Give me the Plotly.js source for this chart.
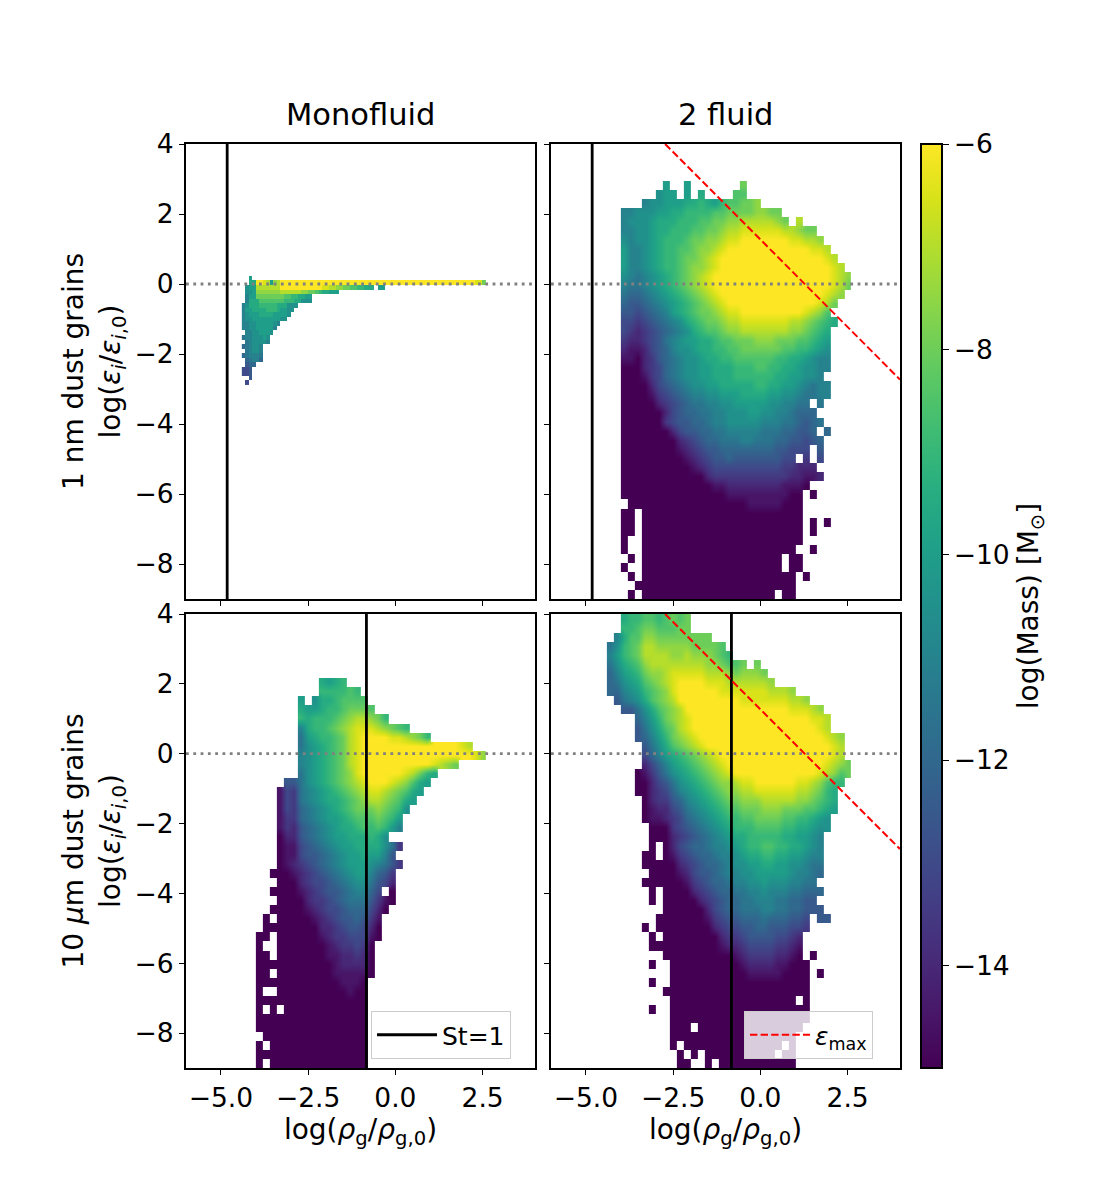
<!DOCTYPE html>
<html>
<head>
<meta charset="utf-8">
<script src="https://cdn.plot.ly/plotly-3.0.1.min.js"></script>
<style>html,body{margin:0;padding:0;background:#fff}</style>
</head>
<body>
<div id="chart" style="width:1100px;height:1200px"></div>
<script>
// One letter per histogram cell: a = log(Mass) -15 ... s = -6 in 0.5 steps, "." = empty bin.
const massLetters = "abcdefghijklmnopqrs";
const massFloor = -15, massStep = 0.5;

// 1 nm monofluid: fine bins, first column x = -4.4, first row y = 0.23 to 0.10 going down
const monoNmRows = [
"..k",
"..llssrqkpqssssssssssssssssssssssssssssssssssssssssssssssssssssssssrro",
".jkkqqqqqqqssssssssssssrrqqppoonnmmlll.kk",
".jjkpppppppqqqqqqppoonmllkkk",
".ikkoooooooonnmmllkk",
".illlnnnnnnnmmmlljjj",
"ijlllmmmmmllljjj",
"ikkllllmmmlkkjj",
"ijkkkllllkkkkj",
"ijjkkkkkkkkjj",
"iijjkkkkkji",
"iijjkkkkki",
".iijjkkkj",
"hiijjjkj",
".hijjjji",
"ghijji",
".hijji",
"ghiiih",
".ghiig",
".fgg",
"eef",
"eef",
"..f",
".e"
];

// Coarse bins below: first column x = -4.6, each 0.2 wide; first row y = 4 to 3.74, each 0.26 tall
const twoNmRows = [
"","","","",
".........k..k.......o",
"........jkk.k.l....nn",
"......ijjkkkllmlkmnnoop",
"...iijjjkkllmmmmnnooooppoo",
"...ijjjklllmmmnnooppqqqqqpo.q",
"...iijjkllmmmnnoopqqrrrrrrqqpoo",
"...jijjklmmmnooppqrrsssssssrrqqp",
"...kiijklmmnnoppqrssssssssssssrrq",
"...kiijklmmnoopqrsssssssssssssssrq",
"...kiijklmmnoppqrssssssssssssssssrq",
"...jihijklmnopqrsssssssssssssssssrqp",
"...ihhijklmnopqrsssssssssssssssssrqo",
"...hgghijklmnopqrsssssssssssssssrqp",
"...gffghijklmnopqrsssssssssssssrqo",
"...ffefghiklmnoopqrrsssssssssrqpn",
"...eedefghijlmnoopqqrrrrrrrqqponml",
"...edcdefghijlmnnoppqqqqqqqpponml",
"...dccdefhijkkllmnnoooppp"+"ooonnmlk",
"...cbbcefgijjkllmmnnoooooo"+"nnmmlkj",
"...bbacdfghijjkllmmnnnnnn"+"mmllkjii",
"...aaacdeghijjkklllmmmnnmmllkjjii",
"...aaabdeghijjkklllmmmmmmllkkjji",
"...aaaacefghijjkklllllmmllkkjihii",
"...aaaabdefghiijjkkkllllkkjjihhii",
"...aaaaacdefghhiijjkkkkkjjiihh.h",
"...aaaaaacefgghhiijjjkkjjiihggg",
"...aaaaaadeffgghiijjjjjiiihhgfgh",
"...aaaaaaaceffgghhiiiiihhhggffg.g",
"...aaaaaaaacdefgghhhiihhhggffefg",
"...aaaaaaaabcdeffggggggggffeee.f",
"...aaaaaaaaabcdeffgfffffffee.d.e",
"...aaaaaaaaaabcdeeeeeeeeeeddccc",
"...aaaaaaaaaaaacdddddddddddccbbc",
"...aaaaaaaaaaaaabbccccccccbbba",
"...aaaaaaaaaaaaaaabbbbbbbbbaa.a",
"....aaaaaaaaaaaaaaaaabbbbbaaa",
"...aa.aaaaaaaaaaaaaaaaaaaaaaa",
"...aa.aaaaaaaaaaaaaaaaaaaaaaa.a.a",
"...aa.aaaaaaaaaaaaaaaaaaaaaaa.a",
"...a..aaaaaaaaaaaaaaaaaaaaaaa",
"...a..aaaaaaaaaaaaaaaaaaaaaa..a",
"....a.aaaaaaaaaaaaaaaaaaaa.aa",
"...a..aaaaaaaaaaaaaaaaaaaa.aa",
"....a.aaaaaaaaaaaaaaaaaaaaaa.a",
".....aaaaaaaaaaaaaaaaaaaaaaa",
"....a.aaaaaaaaaaaaaaaaaaa.aa"
];

const monoUmRows = [
"","","","","","","",
"............lklm",
"............mmmmnm",
".........k.jllmnnnn",
".........lkklmmnooon",
".........mlmmmnopqqpom",
".........ilmmnopqrrrqponm",
".........hklmmnoqrssssrrqpom",
".........hjklmnoqrssssssssssssssrq",
".........ijklmnoqrssssssssssssssssrp",
".........ijklmnoqrssssssssssrqpo",
".........hjklmnoprssssssrqoml",
".......ffhjklmnopqrsssrqpnlk",
"......bedhijklmnopqrrqponlk",
"......bedhijkllmnopqqponlk",
"......bedghijklmnooopon"+"mj",
"......bddghijkklmnnnonmk",
"......bdcfghijkllmnmnmki",
"......accfghijkklllmlj",
"......abbefghijkklllljhd",
"......abbeffghijkklkkif",
"......abcdefghijkkkjihfd",
".....aaabcdefghijkkigfd",
"......aaacdeefghijjhfec",
".....aaaabcdeffghiige.a",
"......aaaacddefghhhfdba",
".....aaaaabcdeefgggeca",
"....a.aaaaabcdeffgfdb",
"....aaaaaaaaccdeffeca",
"...aa.aaaaaabcddeeeba",
"...a..aaaaaaabcddeda",
"...aa.aaaaaaabbccdca",
"...aaaaaaaaaaabcccca",
"...aa.aaaaaaaabbbbba",
"...aaaaaaaaaaaabbba",
"...a..aaaaaaaaaabaa",
"...aaaaaaaaaaaaaaaa",
"...a.a.aaaaaaaaaaaa",
"...aaaaaaaaaaaaaaaa",
"...aaaaaaaaaaaaaaaa",
"....aaaaaaaaaaaaaaa",
"...a.aaaaaaaaaaaaaa",
"...aaaaaaaaaaaaaaaa",
"...a.aaaaaaaaaaaaaa"
];

const twoUmRows = [
"...lmmnnmnono",
"...mmnoonnnoo",
"..ilnnppoooooooo",
".hjmnoqqpppppoooon",
".ikmnoqqqqppqppponm",
".hjlmnpqqqqqqqqpponno.o",
".giklmoppqrrrrrqqqpopppo",
".ghjklnopqrssssrrrqqqqqqp",
".ggijkmnoprssssssrrrrrrrqqqp",
"..fhijlnopqsssssssssrrrrrrrqqp",
"...ffhjlnopqsssssssssssssssrrrqp",
".....gikmopqrsssssssssssssssssrrq",
".....fhjlnoqrssssssssssssssssssrq",
".....fgikmopqrssssssssssssssssssrqp",
"......fhjlnopqrssssssssssssssssssrq",
"......egiklmnopqrssssssssssssssssrq",
"......cegiklmnopqrssssssssssssssrqpo",
".....abdfhjklmnopqrssssssssssssrqpno",
".....aacefhjklmnoppqrrssssssrrqpnmm",
".....aacdegijklmnoppqqrrrrrrqqpoml",
"......acddfgijklmnooppp"+"qqqqqpponml",
"......abccefhijklmnnooo"+"pppooonnmlk",
"......abbcdeghijklmmnn"+"oooonnmmlkj",
".......aaadefghijklmmm"+"nnnnmmllkjj",
".......aaacdefghijkll"+"mmmmmllkkji",
".......a.acefgghiijklmmnnmmllkji",
"......aa.abdefgghiijkllmmllkkjii",
"......aaaaacdefgghijjkkllkkjjihh",
".......aaaabceffghiijjkkkkkjiihg",
"......aaaaaabdefgghiijjkjjjiihh",
".......a.aaaacdefgghhiijiiihhggg",
".......a.aaaaacdefgghhiiihhggff",
".........aaaaaacefgghhhiihhggfff",
"........aaaaaaabdeffggghgggffe.ff",
"......a.aaaaaaaacdeeffggfffeed",
".......a.aaaaaaaacddeffffeedc",
".......aaaaaaaaaabccdeeeeddcb",
".........aaaaaaaaaabcddddccba.a",
".......a..aaaaaaaaaabccccbbaaa",
"..........aaaaaaaaaaabbbbbaaaa.a",
".......a..aaaaaaaaaaaaaaaaaaaa",
".........aaaaaaaaaaaaaaaaaaaaa",
"..........aaaaaaaaaaaaaaaaaa.a",
".......a..aaaaaaaaaaaaaaaaaaaa",
"..........aaaaaaaaaaaaaaaaaaaa",
"..........aaa.aaaaaaaaaaaaaaa",
"..........aaaaaaaaaaaaaaaaaa",
"..........a.aaaaaaaaaaaaaa.a",
"...........a.a.aaaaaaaaaa.aa",
"...........aa..a.aaaaaaaaaaa"
];

const stokesX = {nm: -4.82, um: -0.83};
const epsMaxX = [-2.73, 4];
const epsMaxY = [4, -2.73];
const refLineX = [-6, 4];
const refLineY = [0, 0];
const xTicks = [-5, -2.5, 0, 2.5];
const yTicks = [-8, -6, -4, -2, 0, 2, 4];
const cbTicks = [-14, -12, -10, -8, -6];
const panelTitles = ["Monofluid", "2 fluid"];

const xLabel = "log(<i>ρ</i><sub>g</sub>/<i>ρ</i><sub>g,0</sub>)";
const yLabelMath = "log(<i>ε</i><sub><i>i</i></sub>/<i>ε</i><sub><i>i</i>,0</sub>)";
const yLabels = ["1 nm dust grains<br>" + yLabelMath, "10 <i>μ</i>m dust grains<br>" + yLabelMath];

function cellGrid(rows, x0, dx, yTop, dy) {
  const nCols = Math.max(...rows.map(r => r.length));
  const x = Array.from({length: nCols}, (_, i) => x0 + dx * (i + 0.5));
  const y = [], z = [];
  rows.forEach((row, j) => {
    y.unshift(yTop - dy * (j + 0.5));
    const line = [];
    for (let i = 0; i < nCols; i++) {
      const k = i < row.length ? massLetters.indexOf(row[i]) : -1;
      line.push(k < 0 ? null : massFloor + massStep * k);
    }
    z.unshift(line);
  });
  return {x, y, z};
}

function heat(rows, x0, dx, yTop, dy, xa, ya, smooth) {
  return Object.assign(cellGrid(rows, x0, dx, yTop, dy), {
    type: "heatmap", coloraxis: "coloraxis", xaxis: xa, yaxis: ya, zsmooth: smooth,
    hoverinfo: "skip", showlegend: false
  });
}
function vline(x, xa, ya, show) {
  return {type: "scatter", mode: "lines", x: [x, x], y: [-9, 4], xaxis: xa, yaxis: ya,
    line: {color: "black", width: 2.8}, name: "St=1", showlegend: !!show, legend: "legend", hoverinfo: "skip"};
}
function dotted(xa, ya) {
  return {type: "scatter", mode: "lines", x: refLineX, y: refLineY, xaxis: xa, yaxis: ya,
    line: {color: "gray", width: 2.8, dash: "2.8px,4.5px"}, showlegend: false, hoverinfo: "skip"};
}
function eps(xa, ya, show) {
  return {type: "scatter", mode: "lines", x: epsMaxX, y: epsMaxY, xaxis: xa, yaxis: ya,
    line: {color: "red", width: 2, dash: "7.4px,3.2px"}, name: "<i>ε</i><sub>max</sub>",
    showlegend: !!show, legend: "legend2", hoverinfo: "skip"};
}

const traces = [
  heat(monoNmRows, -4.4, 0.1, 0.23, 0.13, "x", "y", false),
  heat(twoNmRows, -4.6, 0.2, 4, 0.26, "x2", "y2", "best"),
  heat(monoUmRows, -4.6, 0.2, 4, 0.26, "x3", "y3", "best"),
  heat(twoUmRows, -4.6, 0.2, 4, 0.26, "x4", "y4", "best"),
  dotted("x", "y"), dotted("x2", "y2"), dotted("x3", "y3"), dotted("x4", "y4"),
  vline(stokesX.nm, "x", "y"), vline(stokesX.nm, "x2", "y2"),
  vline(stokesX.um, "x3", "y3", true), vline(stokesX.um, "x4", "y4"),
  eps("x2", "y2"), eps("x4", "y4", true)
];

const W = 1100, H = 1200;
const fontFam = "DejaVu Sans";
const colX = [[186, 535], [551, 900]];
const rowY = [[144, 599], [614, 1068]];
const tickFont = {family: fontFam, size: 26.5, color: "black"};
const titleFont = {family: fontFam, size: 28, color: "black"};

function xAxis(col, row, anchor) {
  return {domain: [colX[col][0] / W, colX[col][1] / W], range: [-6, 4], anchor,
    tickmode: "array", tickvals: xTicks, ticktext: xTicks.map(v => v.toFixed(1).replace("-", "\u2212")),
    showticklabels: row === 1, ticks: "outside", ticklen: 5, tickwidth: 1.4, tickcolor: "black",
    showline: true, mirror: true, linecolor: "black", linewidth: 2, showgrid: false, zeroline: false,
    tickfont: tickFont,
    title: row === 1 ? {text: xLabel, font: titleFont, standoff: 1} : undefined};
}
function yAxis(col, row, anchor) {
  return {domain: [1 - rowY[row][1] / H, 1 - rowY[row][0] / H], range: [-9, 4], anchor,
    tickmode: "array", tickvals: yTicks, ticktext: yTicks.map(v => String(v).replace("-", "\u2212")),
    showticklabels: col === 0, ticks: "outside", ticklen: 5, tickwidth: 1.4, tickcolor: "black",
    showline: true, mirror: true, linecolor: "black", linewidth: 2, showgrid: false, zeroline: false,
    tickfont: tickFont,
    title: col === 0 ? {text: yLabels[row], font: titleFont, standoff: 6} : undefined};
}

const legendBase = {font: {family: fontFam, size: 25, color: "black"}, bgcolor: "rgba(255,255,255,0.8)",
  bordercolor: "#cccccc", borderwidth: 1, yanchor: "top", xanchor: "left", itemwidth: 60,
  itemclick: false, itemdoubleclick: false, tracegroupgap: 0};

const layout = {
  width: W, height: H, margin: {l: 0, r: 0, t: 0, b: 0, pad: 0},
  paper_bgcolor: "white", plot_bgcolor: "white", font: {family: fontFam, color: "black"},
  xaxis: xAxis(0, 0, "y"), yaxis: yAxis(0, 0, "x"),
  xaxis2: xAxis(1, 0, "y2"), yaxis2: yAxis(1, 0, "x2"),
  xaxis3: xAxis(0, 1, "y3"), yaxis3: yAxis(0, 1, "x3"),
  xaxis4: xAxis(1, 1, "y4"), yaxis4: yAxis(1, 1, "x4"),
  coloraxis: {colorscale: "Viridis", cmin: -15, cmax: -6,
    colorbar: {x: 921 / W, xanchor: "left", xpad: 0, ypad: 0, y: 1 - 606 / H, yanchor: "middle",
      len: 924 / H, lenmode: "fraction", thickness: 21, thicknessmode: "pixels",
      outlinewidth: 2, outlinecolor: "black", ticks: "outside", ticklen: 6, tickwidth: 1.4, tickcolor: "black",
      tickmode: "array", tickvals: cbTicks, ticktext: cbTicks.map(v => String(v).replace("-", "\u2212")),
      tickfont: tickFont,
      title: {text: "log(Mass) [M<sub>⊙</sub>]", side: "right", font: titleFont}}},
  legend: Object.assign({}, legendBase, {x: 371 / W, y: 1 - 1011 / H, entrywidth: 92}),
  legend2: Object.assign({}, legendBase, {x: 744 / W, y: 1 - 1011 / H, entrywidth: 83}),
  annotations: panelTitles.map((t, i) => ({text: t, xref: "paper", yref: "paper", showarrow: false,
    x: (colX[i][0] + colX[i][1]) / 2 / W, y: 1 - 134 / H, xanchor: "center", yanchor: "bottom",
    font: {family: fontFam, size: 30.5, color: "black"}}))
};

Plotly.newPlot("chart", traces, layout, {displayModeBar: false});
</script>
</body>
</html>
